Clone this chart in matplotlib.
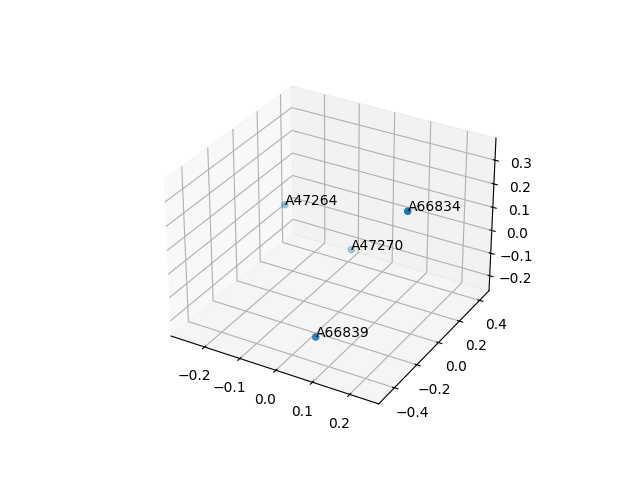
import matplotlib
matplotlib.use("Agg")
import matplotlib.pyplot as plt

names = ["A47264", "A66834", "A47270", "A66839"]
xs = [-0.26, 0.24, -0.10, 0.088]
ys = [0.317, -0.188, 0.43, -0.47]
zs = [-0.044, 0.35, -0.225, -0.112]

fig = plt.figure()
ax = fig.add_subplot(projection="3d")
ax.scatter(xs, ys, zs)
for i in range(len(names)):
    ax.text(xs[i], ys[i], zs[i], names[i])

plt.savefig("out.png")
